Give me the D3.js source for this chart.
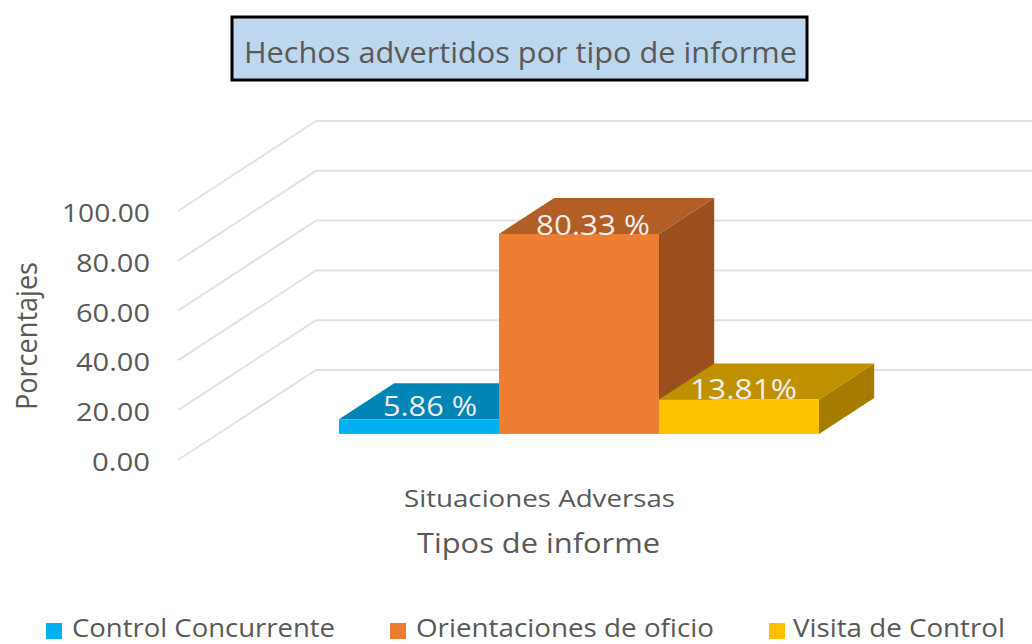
<!DOCTYPE html>
<html><head><meta charset="utf-8">
<script src="https://cdn.jsdelivr.net/npm/d3@7/dist/d3.min.js"></script>
<style>html,body{margin:0;padding:0;background:#fff;overflow:hidden}svg{display:block}text{font-family:"Open Sans",sans-serif}</style>
</head><body><svg id="c" width="1032" height="644"></svg>
<script>
const titleText = "Hechos advertidos por tipo de informe";
const categoryLabel = "Situaciones Adversas";
const xTitle = "Tipos de informe";
const yTitle = "Porcentajes";
const seriesNames = ["Control Concurrente", "Orientaciones de oficio", "Visita de Control"];
const seriesValues = [5.86, 80.33, 13.81];
const valueLabels = ["5.86 %", "80.33 %", "13.81%"];
const yTicks = [0, 20, 40, 60, 80, 100];
const frontColors = ["#00b0f0", "#ed7d31", "#ffc000"];
const topColors = ["#0085b6", "#b25e25", "#bf9000"];
const sideColors = ["#00719b", "#9a4f1d", "#a67c00"];

const svg = d3.select("#c");
const y = d3.scaleLinear().domain([0, 100]).range([460, 211]);
const DX = 138, DY = -90, floorX = 178;
const proj = (v, t) => [floorX + DX * t, y(v) + DY * t];

// wall grid
const grid = svg.append("g").attr("fill", "none").attr("stroke", "#e1e1e1").attr("stroke-width", 2);
yTicks.forEach(v => {
  const a = proj(v, 0), b = proj(v, 1);
  grid.append("path").attr("d", d3.line()([a, b, [1032, b[1]]]));
});

// y axis labels
const ax = svg.append("g").attr("transform", "translate(150,0)")
  .call(d3.axisLeft(y).tickValues(yTicks).tickFormat(d3.format(".2f")).tickSize(0).tickPadding(0));
ax.select(".domain").remove();
ax.selectAll("text").attr("fill", "#595959").attr("font-size", 26)
  .style("font-family", '"Open Sans",sans-serif').attr("dy", "0.4em")
  .attr("textLength", d => d === 100 ? 88 : (d === 0 ? 58 : 74)).attr("lengthAdjust", "spacingAndGlyphs");

// bars
const x = d3.scaleBand().domain(seriesNames).range([339, 819]).padding(0);
const tFront = 0.29, tBack = 0.69;
const ddx = DX * (tBack - tFront), ddy = DY * (tBack - tFront);
const bars = svg.append("g");
seriesNames.forEach((name, i) => {
  const x0 = x(name), x1 = x0 + x.bandwidth();
  const yb = y(0) + DY * tFront, yt = y(seriesValues[i]) + DY * tFront;
  const g = bars.append("g");
  g.append("path").attr("fill", sideColors[i])
    .attr("d", d3.line()([[x1, yb], [x1 + ddx, yb + ddy], [x1 + ddx, yt + ddy], [x1, yt]]) + "Z");
  g.append("path").attr("fill", topColors[i])
    .attr("d", d3.line()([[x0, yt], [x0 + ddx, yt + ddy], [x1 + ddx, yt + ddy], [x1, yt]]) + "Z");
  g.append("rect").attr("x", x0).attr("y", yt).attr("width", x.bandwidth()).attr("height", yb - yt).attr("fill", frontColors[i]);
});

// value labels
const labelSpec = [[383, 416, 94], [536, 235, 114], [690, 399, 107]];
valueLabels.forEach((t, i) => {
  svg.append("text").text(t).attr("x", labelSpec[i][0]).attr("y", labelSpec[i][1])
    .attr("font-size", 28).attr("fill", "#efefef")
    .attr("textLength", labelSpec[i][2]).attr("lengthAdjust", "spacingAndGlyphs");
});

// title
svg.append("rect").attr("x", 232).attr("y", 17).attr("width", 575).attr("height", 63)
  .attr("fill", "#bdd7ee").attr("stroke", "#000").attr("stroke-width", 3);
svg.append("text").text(titleText).attr("x", 244).attr("y", 63).attr("font-size", 29).attr("fill", "#595959")
  .attr("textLength", 553).attr("lengthAdjust", "spacingAndGlyphs");

// axis titles
svg.append("text").text(categoryLabel).attr("x", 404).attr("y", 507).attr("font-size", 24).attr("fill", "#595959")
  .attr("textLength", 271).attr("lengthAdjust", "spacingAndGlyphs");
svg.append("text").text(xTitle).attr("x", 417).attr("y", 553).attr("font-size", 28).attr("fill", "#595959")
  .attr("textLength", 243).attr("lengthAdjust", "spacingAndGlyphs");
svg.append("text").text(yTitle).attr("transform", "translate(37,410) rotate(-90)").attr("font-size", 29).attr("fill", "#595959")
  .attr("textLength", 148).attr("lengthAdjust", "spacingAndGlyphs");

// legend
const legend = [[46, 72, 263], [390, 416, 298], [769, 793, 212]];
seriesNames.forEach((n, i) => {
  svg.append("rect").attr("x", legend[i][0]).attr("y", 623).attr("width", 16).attr("height", 16).attr("fill", frontColors[i]);
  svg.append("text").text(n).attr("x", legend[i][1]).attr("y", 636.5).attr("font-size", 25).attr("fill", "#595959")
    .attr("textLength", legend[i][2]).attr("lengthAdjust", "spacingAndGlyphs");
});
</script></body></html>
